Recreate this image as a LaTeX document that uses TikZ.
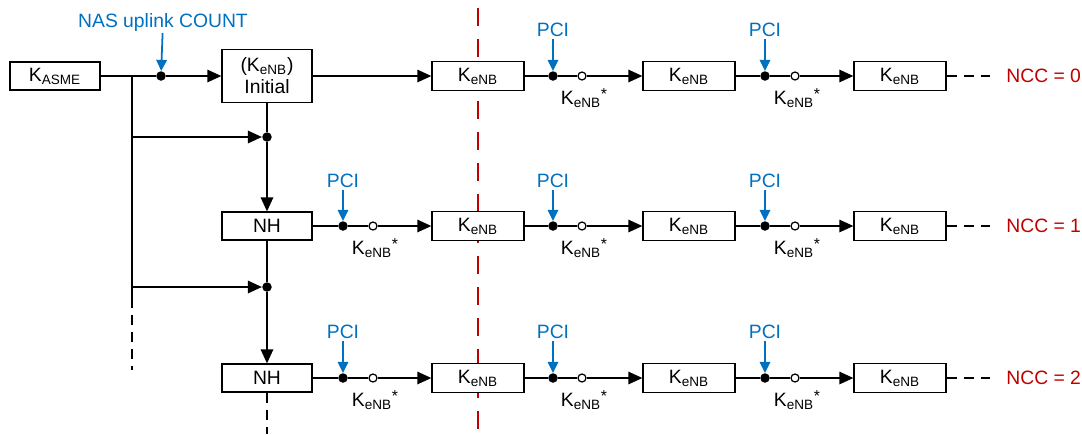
\documentclass[tikz,border=0pt]{standalone}
\usepackage{fontspec}
\setmainfont{Liberation Sans}
\usepackage{xcolor}
\usetikzlibrary{arrows.meta,positioning}

\definecolor{pciblue}{RGB}{0,112,192}
\definecolor{nccred}{RGB}{192,0,0}
\newcommand{\kenb}{K\textsubscript{eNB}}
\newcommand{\kenbstar}{K\textsubscript{eNB}\raisebox{0.45ex}{\small *}}

\begin{document}
\begin{tikzpicture}[
    x=0.02cm, y=-0.02cm,
    box/.style={rectangle, draw=black, fill=white, line width=0.75pt,
                minimum width=1.84cm, minimum height=0.58cm, inner sep=1pt,
                align=center, font=\fontsize{11}{12.5}\selectfont},
    jdot/.style={circle, fill=black, inner sep=0pt, minimum size=0.19cm},
    odot/.style={circle, draw=black, fill=white, line width=0.7pt,
                 inner sep=0pt, minimum size=0.16cm},
    ln/.style={line width=0.8pt},
    arr/.style={-{Triangle[length=2.8mm, width=2.5mm]}, line width=0.8pt},
    pci/.style={text=pciblue, inner sep=1pt, font=\fontsize{11}{12}\selectfont},
    parr/.style={-{Triangle[length=2.2mm, width=2.1mm]}, draw=pciblue, line width=1pt},
    klab/.style={inner sep=1pt, font=\fontsize{11}{12}\selectfont},
    ncc/.style={text=nccred, anchor=west, inner sep=0pt, font=\fontsize{11}{12}\selectfont},
    tail/.style={line width=0.8pt, dash pattern=on 0.2cm off 0.14cm}
  ]
  \useasboundingbox (0,0) rectangle (1082,434);

  %% ── NCC border (red, behind the boxes) ─────────────────────────────
  \coordinate (cuttop) at (478,8);
  \coordinate (cutbot) at (478,434);
  \draw[nccred, line width=1.1pt, dash pattern=on 0.36cm off 0.26cm] (cuttop) -- (cutbot);

  %% ── left column: K_ASME, initial key, NH ───────────────────────────
  \node[box, minimum width=1.8cm, minimum height=0.56cm] (kasme) at (55,76)  {K\textsubscript{ASME}};
  \node[jdot]                     (nas)   at (161,76)  {};
  \node[pci]                      (naslab) at (163,22) {NAS uplink COUNT};
  \node[box, minimum width=1.8cm, minimum height=1.06cm] (init) at (267,76) {(\kenb)\\Initial};
  \node[jdot]                     (j1)    at (267,137) {};
  \node[box, minimum width=1.8cm, minimum height=0.56cm] (nh1) at (267,226) {NH};
  \node[jdot]                     (j2)    at (267,287) {};
  \node[box, minimum width=1.8cm, minimum height=0.56cm] (nh2) at (267,378) {NH};

  \coordinate (sp)  at (132,76);
  \coordinate (b1)  at (132,137);
  \coordinate (b2)  at (132,287);
  \coordinate (b3)  at (132,298);
  \coordinate (b4)  at (132,370);
  \coordinate (nhend) at (267,434);

  \draw[ln]   (kasme) -- (nas);
  \draw[arr]  (nas) -- (init);
  \draw[parr] (naslab) -- (nas);
  \draw[ln]   (sp) -- (b2) -- (b3);
  \draw[tail] (b3) -- (b4);
  \draw[arr]  (b1) -- (j1);
  \draw[arr]  (b2) -- (j2);
  \draw[ln]   (init) -- (j1);
  \draw[arr]  (j1) -- (nh1);
  \draw[ln]   (nh1) -- (j2);
  \draw[arr]  (j2) -- (nh2);
  \draw[tail] (nh2) -- (nhend);

  %% ── row NCC = 0 (y = 76) ───────────────────────────────────────────
  \node[box] (e01) at (478,76) {\kenb};
  \node[box] (e02) at (689,76) {\kenb};
  \node[box] (e03) at (900,76) {\kenb};
  \node[jdot] (p02) at (553,76) {};
  \node[odot] (o02) at (582,76) {};
  \node[jdot] (p03) at (765,76) {};
  \node[odot] (o03) at (795,76) {};
  \node[pci]  (c02) at (553,30) {PCI};
  \node[pci]  (c03) at (765,30) {PCI};
  \node[klab] (s02) at (584,98) {\kenbstar};
  \node[klab] (s03) at (797,98) {\kenbstar};
  \coordinate (t0) at (990,76);
  \node[ncc]  (ncc0) at (1006,76) {NCC = 0};
  \draw[arr]  (init) -- (e01);
  \draw[ln]   (e01) -- (p02) -- (o02);
  \draw[arr]  (o02) -- (e02);
  \draw[ln]   (e02) -- (p03) -- (o03);
  \draw[arr]  (o03) -- (e03);
  \draw[parr] (c02) -- (p02);
  \draw[parr] (c03) -- (p03);
  \draw[tail] (e03) -- (t0);

  %% ── row NCC = 1 (y = 226) ──────────────────────────────────────────
  \node[box] (e11) at (478,226) {\kenb};
  \node[box] (e12) at (689,226) {\kenb};
  \node[box] (e13) at (900,226) {\kenb};
  \node[jdot] (p11) at (343,226) {};
  \node[odot] (o11) at (373,226) {};
  \node[jdot] (p12) at (553,226) {};
  \node[odot] (o12) at (582,226) {};
  \node[jdot] (p13) at (765,226) {};
  \node[odot] (o13) at (795,226) {};
  \node[pci]  (c11) at (343,181) {PCI};
  \node[pci]  (c12) at (553,181) {PCI};
  \node[pci]  (c13) at (765,181) {PCI};
  \node[klab] (s11) at (375,248) {\kenbstar};
  \node[klab] (s12) at (584,248) {\kenbstar};
  \node[klab] (s13) at (797,248) {\kenbstar};
  \coordinate (t1) at (990,226);
  \node[ncc]  (ncc1) at (1006,226) {NCC = 1};
  \draw[ln]   (nh1) -- (p11) -- (o11);
  \draw[arr]  (o11) -- (e11);
  \draw[ln]   (e11) -- (p12) -- (o12);
  \draw[arr]  (o12) -- (e12);
  \draw[ln]   (e12) -- (p13) -- (o13);
  \draw[arr]  (o13) -- (e13);
  \draw[parr] (c11) -- (p11);
  \draw[parr] (c12) -- (p12);
  \draw[parr] (c13) -- (p13);
  \draw[tail] (e13) -- (t1);

  %% ── row NCC = 2 (y = 378) ──────────────────────────────────────────
  \node[box] (e21) at (478,378) {\kenb};
  \node[box] (e22) at (689,378) {\kenb};
  \node[box] (e23) at (900,378) {\kenb};
  \node[jdot] (p21) at (343,378) {};
  \node[odot] (o21) at (373,378) {};
  \node[jdot] (p22) at (553,378) {};
  \node[odot] (o22) at (582,378) {};
  \node[jdot] (p23) at (765,378) {};
  \node[odot] (o23) at (795,378) {};
  \node[pci]  (c21) at (343,332) {PCI};
  \node[pci]  (c22) at (553,332) {PCI};
  \node[pci]  (c23) at (765,332) {PCI};
  \node[klab] (s21) at (375,400) {\kenbstar};
  \node[klab] (s22) at (584,400) {\kenbstar};
  \node[klab] (s23) at (797,400) {\kenbstar};
  \coordinate (t2) at (990,378);
  \node[ncc]  (ncc2) at (1006,378) {NCC = 2};
  \draw[ln]   (nh2) -- (p21) -- (o21);
  \draw[arr]  (o21) -- (e21);
  \draw[ln]   (e21) -- (p22) -- (o22);
  \draw[arr]  (o22) -- (e22);
  \draw[ln]   (e22) -- (p23) -- (o23);
  \draw[arr]  (o23) -- (e23);
  \draw[parr] (c21) -- (p21);
  \draw[parr] (c22) -- (p22);
  \draw[parr] (c23) -- (p23);
  \draw[tail] (e23) -- (t2);

\end{tikzpicture}
\end{document}
